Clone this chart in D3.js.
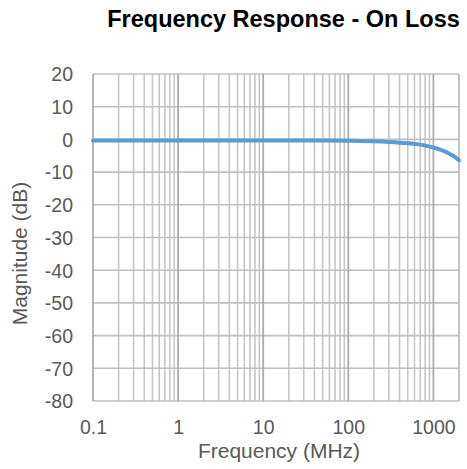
<!DOCTYPE html>
<html>
<head>
<meta charset="utf-8">
<script src="https://cdn.jsdelivr.net/npm/d3@7"></script>
<style>
  html, body { margin: 0; padding: 0; background: #fff; }
  svg { display: block; font-family: "Liberation Sans", Arial, sans-serif; }
</style>
</head>
<body>
<svg id="chart" width="467" height="469"></svg>
<script>
// Frequency response samples (MHz, dB)
const frequencies = [0.1, 1, 10, 50, 100, 200, 300, 400, 500, 600, 700, 800, 900, 1000, 1200, 1400, 1600, 1800, 2000];
const magnitudes  = [-0.3, -0.3, -0.3, -0.35, -0.4, -0.6, -0.8, -1.0, -1.2, -1.4, -1.6, -1.9, -2.2, -2.5, -3.1, -3.8, -4.6, -5.4, -6.4];

const xTickValues = [0.1, 1, 10, 100, 1000];
const xTickLabels = ["0.1", "1", "10", "100", "1000"];
const yTickValues = [20, 10, 0, -10, -20, -30, -40, -50, -60, -70, -80];

const svg = d3.select("#chart");
const plotLeft = 93, plotRight = 459, plotTop = 74, plotBottom = 401;

const x = d3.scaleLog().domain([0.1, 2000]).range([plotLeft, plotRight]);
const y = d3.scaleLinear().domain([-80, 20]).range([plotBottom, plotTop]);

// Minor grid positions: 2..9 times each decade, within the domain
const minorGrid = [];
xTickValues.forEach(d => {
  for (let k = 2; k <= 9; k++) {
    const v = d * k;
    if (v <= 2000) minorGrid.push(v);
  }
});

const grid = svg.append("g");
grid.selectAll("line.minor")
  .data(minorGrid)
  .join("line")
  .attr("class", "minor")
  .attr("x1", d => x(d)).attr("x2", d => x(d))
  .attr("y1", plotTop).attr("y2", plotBottom)
  .attr("stroke", "#c6c6c6").attr("stroke-width", 1.6);

grid.selectAll("line.h")
  .data(yTickValues)
  .join("line")
  .attr("class", "h")
  .attr("x1", plotLeft).attr("x2", plotRight)
  .attr("y1", d => y(d)).attr("y2", d => y(d))
  .attr("stroke", "#c0c0c0").attr("stroke-width", 1.6);

grid.selectAll("line.major")
  .data(xTickValues)
  .join("line")
  .attr("class", "major")
  .attr("x1", d => x(d)).attr("x2", d => x(d))
  .attr("y1", plotTop).attr("y2", plotBottom)
  .attr("stroke", "#acacac").attr("stroke-width", 1.8);

// Right border of plot area
grid.append("line")
  .attr("x1", x(2000)).attr("x2", x(2000))
  .attr("y1", plotTop).attr("y2", plotBottom)
  .attr("stroke", "#c0c0c0").attr("stroke-width", 1.6);

// Axes (labels only)
const xAxis = d3.axisBottom(x)
  .tickValues(xTickValues)
  .tickFormat((d, i) => xTickLabels[i])
  .tickSize(0).tickPadding(0);
const gx = svg.append("g").attr("transform", `translate(0,${plotBottom})`).call(xAxis);
gx.select(".domain").remove();
gx.selectAll("text")
  .attr("dy", null).attr("y", 33)
  .attr("fill", "#595959")
  .style("font-size", "19.5px");

const yAxis = d3.axisLeft(y)
  .tickValues(yTickValues)
  .tickFormat(d => String(d))
  .tickSize(0).tickPadding(0);
const gy = svg.append("g").attr("transform", `translate(73,0)`).call(yAxis);
gy.select(".domain").remove();
gy.selectAll("text")
  .attr("x", 0).attr("dy", "0.35em")
  .attr("fill", "#595959")
  .style("font-size", "19.5px");

// Response curve
const line = d3.line()
  .x((d, i) => x(frequencies[i]))
  .y(d => y(d))
  .curve(d3.curveMonotoneX);

svg.append("path")
  .datum(magnitudes)
  .attr("d", line)
  .attr("fill", "none")
  .attr("stroke", "#5b9bd5")
  .attr("stroke-width", 4)
  .attr("stroke-linecap", "round");

// Titles
svg.append("text")
  .attr("x", 283.5).attr("y", 27)
  .attr("text-anchor", "middle")
  .attr("font-weight", "bold")
  .attr("fill", "#000")
  .style("font-size", "23.5px")
  .text("Frequency Response - On Loss");

svg.append("text")
  .attr("x", 279).attr("y", 458)
  .attr("text-anchor", "middle")
  .attr("fill", "#595959")
  .style("font-size", "21px")
  .text("Frequency (MHz)");

svg.append("text")
  .attr("transform", `translate(27,${(plotTop + plotBottom) / 2 + 16}) rotate(-90)`)
  .attr("text-anchor", "middle")
  .attr("fill", "#595959")
  .style("font-size", "21px")
  .text("Magnitude (dB)");
</script>
</body>
</html>
